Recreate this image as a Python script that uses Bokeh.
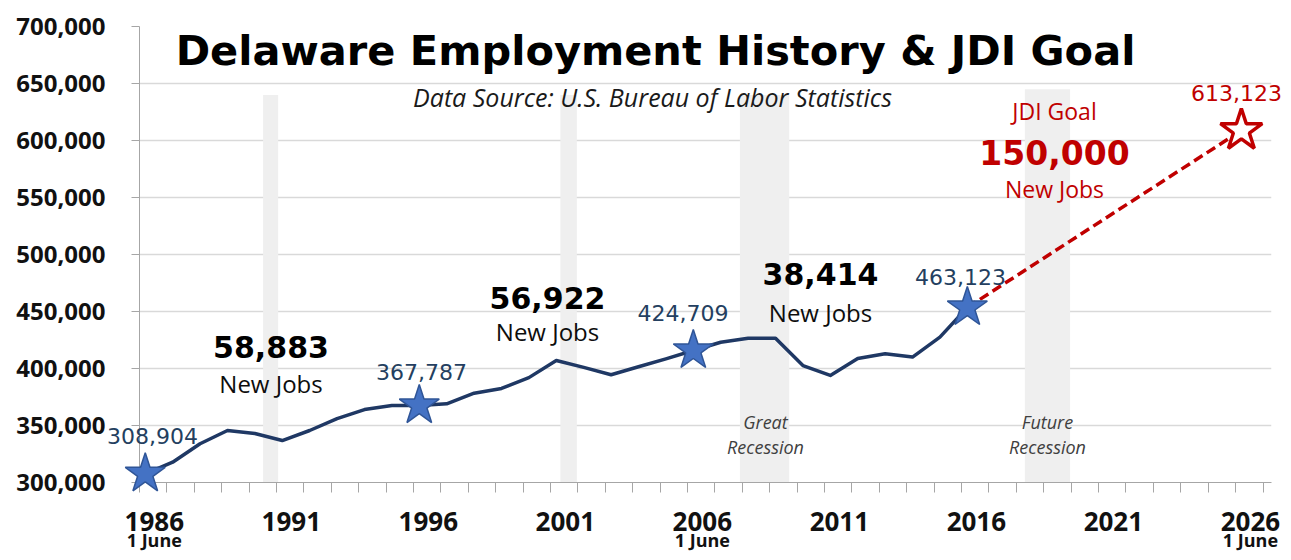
from bokeh.plotting import figure
from bokeh.models import Range1d, FixedTicker, NumeralTickFormatter, CustomJSTickFormatter
from bokeh.core.properties import value
from bokeh.embed import file_html
from bokeh.resources import INLINE

# ---------------- data ----------------
years = list(range(1986, 2017))
employment = [307600, 317800, 334000, 345600, 343000, 336800, 345600, 356000, 364000, 367500,
              367500, 369000, 378300, 382500, 392000, 407000, 401000, 394500, 401500, 408500,
              415800, 423000, 426600, 426600, 402600, 393900, 408800, 412900, 410000, 427500,
              453500]
star_years = [1986, 1996, 2006, 2016]
star_values = [307600, 367500, 415800, 453500]
star_labels = ["308,904", "367,787", "424,709", "463,123"]
goal_years = [2016, 2026]
goal_values = [453500, 608800]
goal_label = "613,123"
recession_start = [1990.30, 2001.15, 2007.70, 2018.10]
recession_end = [1990.85, 2001.75, 2009.50, 2019.75]
recession_top = [640000, 640000, 640000, 645000]
recession_names = [("Great", "Recession"), ("Future", "Recession")]
new_jobs = ["58,883", "56,922", "38,414"]
goal_jobs = "150,000"
label_years = [1986, 1991, 1996, 2001, 2006, 2011, 2016, 2021, 2026]
june_years = [1986, 2006, 2026]
y_ticks = [300000, 350000, 400000, 450000, 500000, 550000, 600000, 650000, 700000]

# ---------------- style / layout ----------------
NAVY = "#1F3864"
STAR_FILL = "#4472C4"
STAR_LINE = "#2F5597"
RED = "#C00000"
LABEL_BLUE = "#243F60"
GRID = "#D9D9D9"
AXIS = "#A6A6A6"
LABEL_OFF = 0.33
TICK_OFF = 0.79
W, H = 1283, 552
FL, FT, FR, FB = 139, 26, 1271, 482   # frame edges in canvas pixels
X0, X1 = 1985.79, 2027.1
Y0, Y1 = 300000, 700000

p = figure(width=W, height=H,
           x_range=Range1d(X0, X1), y_range=Range1d(Y0, Y1),
           output_backend="svg", toolbar_location=None,
           min_border_left=FL, min_border_right=W - FR, min_border_top=FT,
           min_border_bottom=H - FB)
p.outline_line_color = None
p.background_fill_color = "white"
p.border_fill_color = "white"

# axes
p.xaxis.ticker = FixedTicker(ticks=[y + LABEL_OFF for y in label_years],
                             minor_ticks=[y + TICK_OFF for y in range(1985, 2027)])
p.xaxis.formatter = CustomJSTickFormatter(code="return String(Math.floor(tick));")
p.xaxis.major_tick_line_color = None
p.xaxis.minor_tick_line_color = AXIS
p.xaxis.minor_tick_out = 10
p.xaxis.minor_tick_in = 0
p.xaxis.axis_line_color = AXIS
p.xaxis.major_label_text_font = "Open Sans"
p.xaxis.major_label_text_font_style = "bold"
p.xaxis.major_label_text_font_size = "26px"
p.xaxis.major_label_text_color = "#111111"
p.xaxis.major_label_standoff = 19

p.yaxis.ticker = FixedTicker(ticks=y_ticks)
p.yaxis.formatter = NumeralTickFormatter(format="0,0")
p.yaxis.minor_tick_line_color = None
p.yaxis.major_tick_line_color = AXIS
p.yaxis.major_tick_out = 8
p.yaxis.major_tick_in = 0
p.yaxis.axis_line_color = AXIS
p.yaxis.major_label_text_font = "Open Sans"
p.yaxis.major_label_text_font_style = "bold"
p.yaxis.major_label_text_font_size = "24px"
p.yaxis.major_label_text_color = "#111111"
p.yaxis.major_label_standoff = 26

p.xgrid.visible = False
p.ygrid.grid_line_color = GRID
p.ygrid.grid_line_width = 1.5

# recession bands
p.quad(left=recession_start, right=recession_end, bottom=[Y0] * 4, top=recession_top,
       fill_color="#EFEFEF", line_color=None)

# lines and stars
p.line(years, employment, line_color=NAVY, line_width=3.5, line_join="round")
p.line(goal_years, goal_values, line_color=RED, line_width=3.5, line_dash="10 5")
p.scatter(star_years, star_values, marker="star", size=42, fill_color=STAR_FILL,
          line_color=STAR_LINE, line_width=1.5, level="overlay")
p.scatter([goal_years[1]], [goal_values[1]], marker="star", size=44, fill_color="white",
          line_color=RED, line_width=3.5, level="overlay")


def dx(px):
    return X0 + (px - FL) / (FR - FL) * (X1 - X0)


def dy(py):
    return Y0 + (FB - py) / (FB - FT) * (Y1 - Y0)


def add_text(texts, pxs, pys, size, font="Open Sans", style="normal", color="#000000",
             baseline="middle"):
    p.text(x=[dx(v) for v in pxs], y=[dy(v) for v in pys], text=texts,
           text_align="center", text_baseline=baseline, text_font=value(font),
           text_font_size=size, text_font_style=style, text_color=color, level="overlay")


# title and source
add_text(["Delaware Employment History & JDI Goal"], [655], [50], "41.5px",
         font="DejaVu Sans", style="bold", baseline="alphabetic")
add_text(["Data Source: U.S. Bureau of Labor Statistics"], [652], [96], "25px",
         style="italic", color="#1a1a1a")

# new jobs annotations
nj_x = [270.5, 547, 820]
add_text(new_jobs, nj_x, [346.7, 297, 273], "30px", font="DejaVu Sans", style="bold",
         color="#000000")
add_text(["New Jobs"] * 3, nj_x, [382.7, 331, 311.7], "24px", color="#0d0d0d")

# goal annotation
add_text(["JDI Goal"], [1054], [110], "23px", color=RED)
add_text([goal_jobs], [1054], [151.7], "33px", font="DejaVu Sans", style="bold", color=RED)
add_text(["New Jobs"], [1054], [188.3], "23px", color=RED)

# star labels
add_text(star_labels, [152, 421, 682.5, 960], [435, 371.7, 312.3, 276.7], "22px",
         font="DejaVu Sans", color=LABEL_BLUE)
add_text([goal_label], [1236], [92], "22px", font="DejaVu Sans", color=RED)

# recession names
rec_x = [765, 1047]
add_text([n[0] for n in recession_names], rec_x, [421, 421], "18px", style="italic",
         color="#404040")
add_text([n[1] for n in recession_names], rec_x, [446, 446], "18px", style="italic",
         color="#404040")

# "1 June" sub labels under the first, middle and last year labels
june_px = [FL + (y + LABEL_OFF - X0) / (X1 - X0) * (FR - FL) for y in june_years]
add_text(["1 June"] * len(june_years), june_px, [539] * len(june_years), "18px",
         style="bold", color="#111111")

open("out.html", "w").write(file_html(p, INLINE))
